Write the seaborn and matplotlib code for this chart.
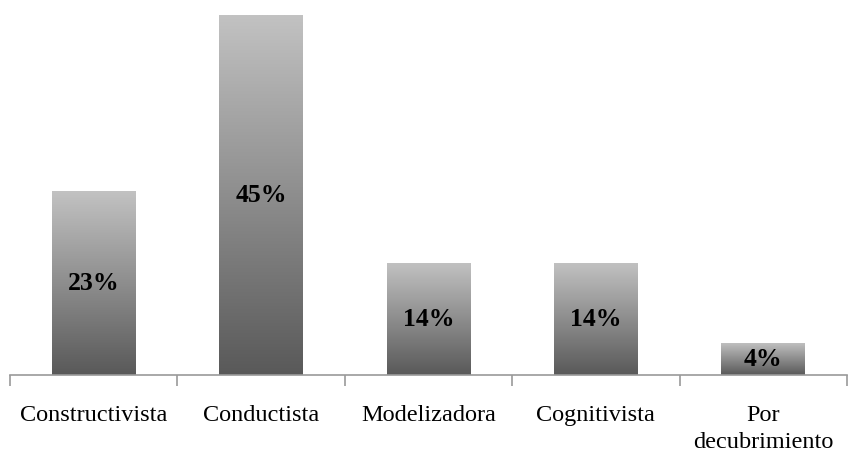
import numpy as np
import pandas as pd
import matplotlib
matplotlib.use("Agg")
import matplotlib.pyplot as plt
import seaborn as sns
from matplotlib.colors import LinearSegmentedColormap

categories = ["Constructivista", "Conductista", "Modelizadora", "Cognitivista", "Por\ndecubrimiento"]
values = [23, 45, 14, 14, 4]
value_labels = ["23%", "45%", "14%", "14%", "4%"]

df = pd.DataFrame({"categoria": categories, "porcentaje": values})

sns.set_theme(style="white")
plt.rcParams["font.family"] = ["Liberation Serif", "DejaVu Serif"]

fig = plt.figure(figsize=(8.65, 4.77), dpi=100)
ax = fig.add_axes([10 / 865, 101 / 477, 837 / 865, 360 / 477])

sns.barplot(data=df, x="categoria", y="porcentaje", ax=ax, width=0.5,
            color="#888888", edgecolor="none", saturation=1)

# vertical grey gradient inside each bar
grad = LinearSegmentedColormap.from_list("g", ["#595959", "#c2c2c2"])
ramp = np.linspace(0, 1, 256).reshape(-1, 1)
for patch in ax.patches:
    x0, y0 = patch.get_x(), patch.get_y()
    w, h = patch.get_width(), patch.get_height()
    patch.set_facecolor("none")
    im = ax.imshow(ramp, cmap=grad, origin="lower", aspect="auto",
                   extent=(x0, x0 + w, y0, y0 + h), zorder=2)
    im.set_clip_path(patch)

ax.set_xlim(-0.5, len(categories) - 0.5)
ax.set_ylim(0, 45)

for i, (v, lab) in enumerate(zip(values, value_labels)):
    ax.text(i, v / 2, lab, ha="center", va="center", fontsize=18.5,
            fontweight="bold", color="black", zorder=3)

for s in ["top", "right", "left"]:
    ax.spines[s].set_visible(False)
ax.spines["bottom"].set_color("#9a9a9a")
ax.spines["bottom"].set_linewidth(1.2)

ax.set_yticks([])
ax.set_xlabel("")
ax.set_ylabel("")
ax.set_xticks(range(len(categories)))
ax.set_xticklabels(categories, fontsize=17.5, color="black", linespacing=1.35)
ax.set_xticks(np.arange(-0.5, len(categories)), minor=True)
ax.tick_params(axis="x", which="major", length=0, pad=21)
ax.tick_params(axis="x", which="minor", length=8, width=1.2, color="#9a9a9a",
               direction="out", bottom=True)
for t in ax.get_xticklabels():
    t.set_verticalalignment("top")

fig.savefig("out.png", dpi=100, facecolor="white")
